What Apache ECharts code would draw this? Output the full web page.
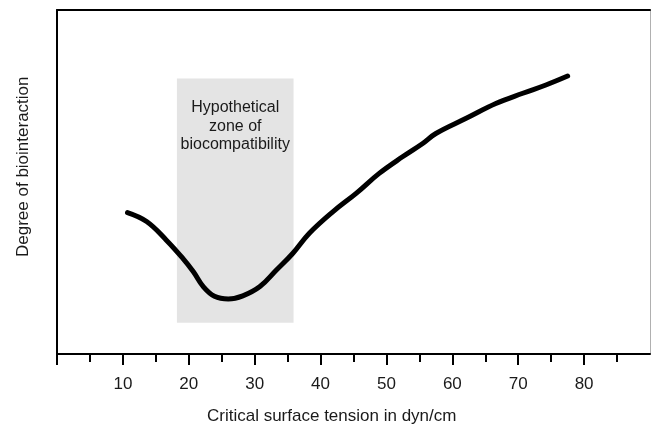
<!DOCTYPE html>
<html>
<head>
<meta charset="utf-8">
<script src="https://cdn.jsdelivr.net/npm/echarts@6/dist/echarts.min.js"></script>
<style>
  html, body { margin: 0; padding: 0; background: #fff; }
  #chart { width: 651px; height: 425px; }
</style>
</head>
<body>
<div id="chart"></div>
<script>
// Critical surface tension (dyn/cm) along the curve
const tension = [10.7, 13.6, 16.6, 19.1, 20.7, 22.2, 23.9, 26.0, 28.2, 30.8, 33.3, 35.8,
                 38.3, 41.9, 45.4, 48.9, 52.5, 55.5, 57.5, 62.1, 66.6, 70.7, 74.2, 77.5];
// Relative degree of biointeraction (arbitrary units, 0-100)
const biointeraction = [41.1, 38.5, 33.1, 27.8, 23.9, 19.6, 16.8, 16.0, 16.9, 19.6, 24.4, 29.3,
                        35.1, 41.4, 46.7, 52.5, 57.4, 61.2, 64.1, 68.5, 72.8, 75.8, 78.2, 80.8];
// Hypothetical zone of biocompatibility: [x from, x to], [y from, y to]
const zoneX = [18.2, 35.9];
const zoneY = [9.1, 80.1];
const zoneLabel = 'Hypothetical\nzone of\nbiocompatibility';
// Axis ticks and labels
const majorTicks = [0, 10, 20, 30, 40, 50, 60, 70, 80];
const tickLabels = [10, 20, 30, 40, 50, 60, 70, 80];

const FONT = '"Liberation Sans", Arial, Helvetica, sans-serif';
const chart = echarts.init(document.getElementById('chart'), null, { renderer: 'canvas' });

chart.setOption({
  animation: false,
  backgroundColor: '#fff',
  grid: { left: 57, top: 10, right: 1, bottom: 71 },
  xAxis: [{
    type: 'value',
    min: 0, max: 90, interval: 10,
    splitLine: { show: false },
    axisLine: { show: true, onZero: false, lineStyle: { color: '#000', width: 2 } },
    axisTick: { show: true, length: 11, customValues: majorTicks, lineStyle: { color: '#000', width: 2 } },
    minorTick: { show: true, splitNumber: 2, length: 8, lineStyle: { color: '#000', width: 2 } },
    axisLabel: { customValues: tickLabels, margin: 22, color: '#1a1a1a', fontSize: 17, fontFamily: FONT }
  }, {
    type: 'value', position: 'top',
    min: 0, max: 90,
    splitLine: { show: false },
    axisLine: { show: true, onZero: false, lineStyle: { color: '#000', width: 2 } },
    axisTick: { show: false }, axisLabel: { show: false }
  }],
  yAxis: [{
    type: 'value',
    min: 0, max: 100,
    splitLine: { show: false },
    axisLine: { show: true, onZero: false, lineStyle: { color: '#000', width: 2 } },
    axisTick: { show: false }, axisLabel: { show: false }
  }, {
    type: 'value', position: 'right',
    min: 0, max: 100,
    splitLine: { show: false },
    axisLine: { show: true, onZero: false, lineStyle: { color: '#b0b0b0', width: 1 } },
    axisTick: { show: false }, axisLabel: { show: false }
  }],
  graphic: [{
    type: 'text',
    left: 207, top: 408,
    style: { text: 'Critical surface tension in dyn/cm', fill: '#1a1a1a', font: '17px ' + FONT }
  }, {
    type: 'text',
    x: 15, y: 257,
    rotation: Math.PI / 2,
    style: { text: 'Degree of biointeraction', fill: '#1a1a1a', font: '17px ' + FONT }
  }],
  series: [{
    type: 'line',
    data: tension.map((t, i) => [t, biointeraction[i]]),
    smooth: 0.4,
    symbol: 'none',
    lineStyle: { color: '#000', width: 5, cap: 'round' },
    z: 3,
    markArea: {
      silent: true,
      itemStyle: { color: '#e4e4e4' },
      label: {
        show: true, position: 'insideTop', distance: 20,
        color: '#1a1a1a', fontSize: 16, lineHeight: 18.5, fontFamily: FONT, align: 'center'
      },
      data: [[
        { name: zoneLabel, xAxis: zoneX[0], yAxis: zoneY[1] },
        { xAxis: zoneX[1], yAxis: zoneY[0] }
      ]]
    }
  }]
});
</script>
</body>
</html>
